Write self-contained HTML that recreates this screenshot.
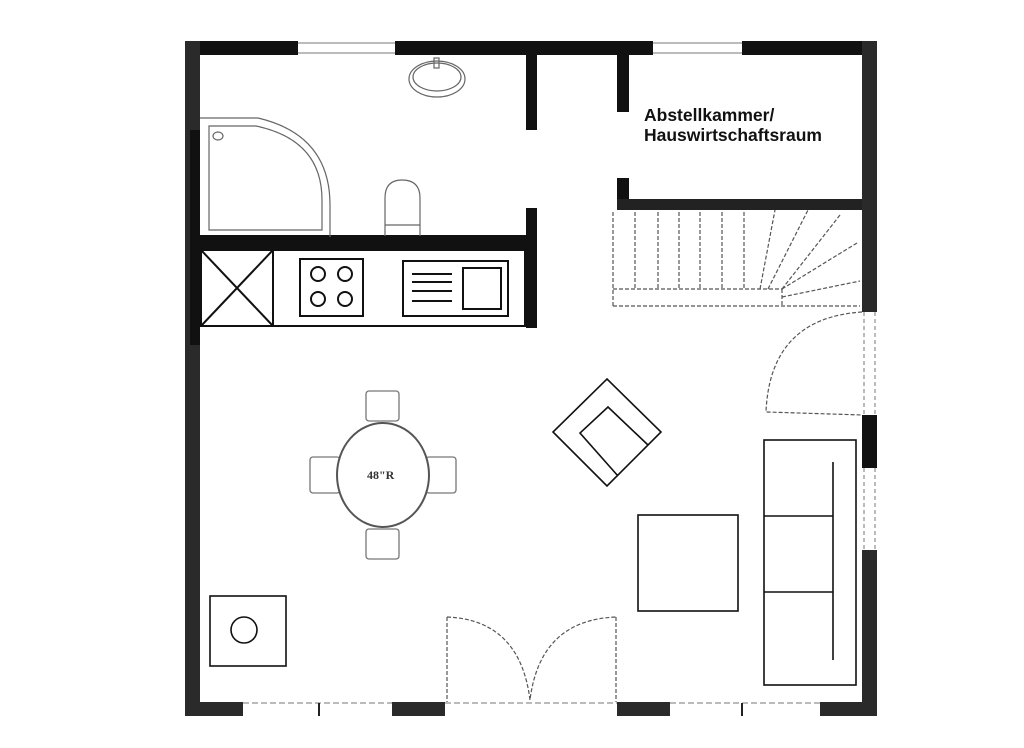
<!DOCTYPE html>
<html><head><meta charset="utf-8"><style>
html,body{margin:0;padding:0;background:#fff;}
svg{display:block;}
</style></head><body>
<svg width="1024" height="748" viewBox="0 0 1024 748" xmlns="http://www.w3.org/2000/svg">
<rect width="1024" height="748" fill="#fff"/>
<g fill="#111">
<rect x="185" y="41" width="113" height="14"/>
<rect x="395" y="41" width="258" height="14"/>
<rect x="742" y="41" width="135" height="14"/>
<rect x="185" y="41" width="15" height="675" fill="#2a2a2a"/>
<rect x="190" y="130" width="10" height="215"/>
<rect x="862" y="41" width="15" height="271" fill="#2a2a2a"/>
<rect x="862" y="415" width="15" height="53"/>
<rect x="862" y="550" width="15" height="166" fill="#2a2a2a"/>
<rect x="185" y="702" width="58" height="14" fill="#2a2a2a"/>
<rect x="392" y="702" width="53" height="14" fill="#2a2a2a"/>
<rect x="617" y="702" width="53" height="14" fill="#2a2a2a"/>
<rect x="820" y="702" width="57" height="14" fill="#2a2a2a"/>
<rect x="200" y="235" width="337" height="14"/>
<rect x="526" y="55" width="11" height="75"/>
<rect x="526" y="208" width="11" height="120"/>
<rect x="617" y="55" width="12" height="57"/>
<rect x="617" y="178" width="12" height="32"/>
<rect x="617" y="199" width="245" height="11" fill="#222"/>
</g>
<g stroke="#777" stroke-width="1" fill="none">
<line x1="298" y1="43" x2="395" y2="43"/><line x1="298" y1="53" x2="395" y2="53"/>
<line x1="653" y1="43" x2="742" y2="43"/><line x1="653" y1="53" x2="742" y2="53"/>
<line x1="243" y1="703" x2="392" y2="703" stroke-dasharray="6 3"/>
<line x1="445" y1="703" x2="617" y2="703" stroke-dasharray="6 3"/>
<line x1="670" y1="703" x2="820" y2="703" stroke-dasharray="6 3"/>
<line x1="864" y1="312" x2="864" y2="415" stroke-dasharray="4 3"/>
<line x1="875" y1="312" x2="875" y2="415" stroke-dasharray="4 3"/>
<line x1="864" y1="468" x2="864" y2="550" stroke-dasharray="4 3"/>
<line x1="875" y1="468" x2="875" y2="550" stroke-dasharray="4 3"/>
</g>
<g stroke="#222" stroke-width="2">
<line x1="319" y1="703" x2="319" y2="716"/>
<line x1="742" y1="703" x2="742" y2="716"/>
</g>
<g stroke="#666" stroke-width="1.2" fill="none">
<path d="M200,118 L258,118 Q330,135 330,205 L330,237"/>
<path d="M209,126 L256,126 Q322,140 322,200 L322,230 L209,230 Z"/>
<ellipse cx="218" cy="136" rx="5" ry="4"/>
<ellipse cx="437" cy="79" rx="28" ry="18"/>
<ellipse cx="437" cy="77" rx="24" ry="14"/>
<rect x="434" y="58" width="5" height="10"/>
<path d="M385,236 L385,198 Q385,180 402,180 Q420,180 420,198 L420,236"/>
<line x1="385" y1="225" x2="420" y2="225"/>
</g>
<g stroke="#111" stroke-width="2" fill="none">
<rect x="201" y="250" width="324" height="76"/>
<line x1="273" y1="250" x2="273" y2="326"/>
<line x1="201" y1="250" x2="273" y2="326"/><line x1="273" y1="250" x2="201" y2="326"/>
<rect x="300" y="259" width="63" height="57"/>
<circle cx="318" cy="274" r="7"/><circle cx="345" cy="274" r="7"/>
<circle cx="318" cy="299" r="7"/><circle cx="345" cy="299" r="7"/>
<rect x="403" y="261" width="105" height="55"/>
<rect x="463" y="268" width="38" height="41"/>
<line x1="412" y1="274" x2="452" y2="274"/><line x1="412" y1="282" x2="452" y2="282"/>
<line x1="412" y1="291" x2="452" y2="291"/><line x1="412" y1="301" x2="452" y2="301"/>
</g>
<text x="644" y="121" font-family="Liberation Sans, sans-serif" font-weight="bold" font-size="17.5" fill="#111">Abstellkammer/</text>
<text x="644" y="141" font-family="Liberation Sans, sans-serif" font-weight="bold" font-size="17.5" fill="#111">Hauswirtschaftsraum</text>
<g stroke="#555" stroke-width="1.2" fill="none" stroke-dasharray="4 2">
<line x1="613" y1="212" x2="613" y2="306"/>
<line x1="635" y1="212" x2="635" y2="289"/>
<line x1="658" y1="212" x2="658" y2="289"/>
<line x1="679" y1="212" x2="679" y2="289"/>
<line x1="700" y1="212" x2="700" y2="289"/>
<line x1="722" y1="212" x2="722" y2="289"/>
<line x1="744" y1="212" x2="744" y2="289"/>
<line x1="613" y1="289" x2="782" y2="289"/>
<line x1="613" y1="306" x2="860" y2="306"/>
<line x1="782" y1="289" x2="782" y2="306"/>
<line x1="760" y1="289" x2="775" y2="210"/>
<line x1="768" y1="289" x2="808" y2="210"/>
<line x1="782" y1="289" x2="840" y2="215"/>
<line x1="782" y1="289" x2="857" y2="243"/>
<line x1="782" y1="297" x2="860" y2="281"/>
<path d="M862,312 Q770,318 766,412 L862,415"/>
<path d="M447,617 L447,702 M616,617 L616,702"/>
<path d="M447,617 Q520,620 530,700 Q540,620 616,617"/>
</g>
<g stroke="#111" stroke-width="1.6" fill="none">
<path d="M607,379 L661,432 L607,486 L553,432 Z"/>
<path d="M648,445 L608,407 L580,433 L618,476"/>
</g>
<g stroke="#777" stroke-width="1.3" fill="#fff">
<rect x="366" y="391" width="33" height="30" rx="3"/>
<rect x="366" y="529" width="33" height="30" rx="3"/>
<rect x="310" y="457" width="30" height="36" rx="3"/>
<rect x="426" y="457" width="30" height="36" rx="3"/>
<ellipse cx="383" cy="475" rx="46" ry="52" stroke="#555" stroke-width="2"/>
</g>
<text x="367" y="479" font-family="Liberation Serif, serif" font-weight="bold" font-size="12" fill="#333">48"R</text>
<g stroke="#111" stroke-width="1.6" fill="none">
<rect x="638" y="515" width="100" height="96"/>
<rect x="764" y="440" width="92" height="245"/>
<line x1="764" y1="516" x2="833" y2="516"/>
<line x1="764" y1="592" x2="833" y2="592"/>
<line x1="833" y1="462" x2="833" y2="660"/>
<rect x="210" y="596" width="76" height="70"/>
<ellipse cx="244" cy="630" rx="13" ry="13"/>
</g>
</svg>
</body></html>
